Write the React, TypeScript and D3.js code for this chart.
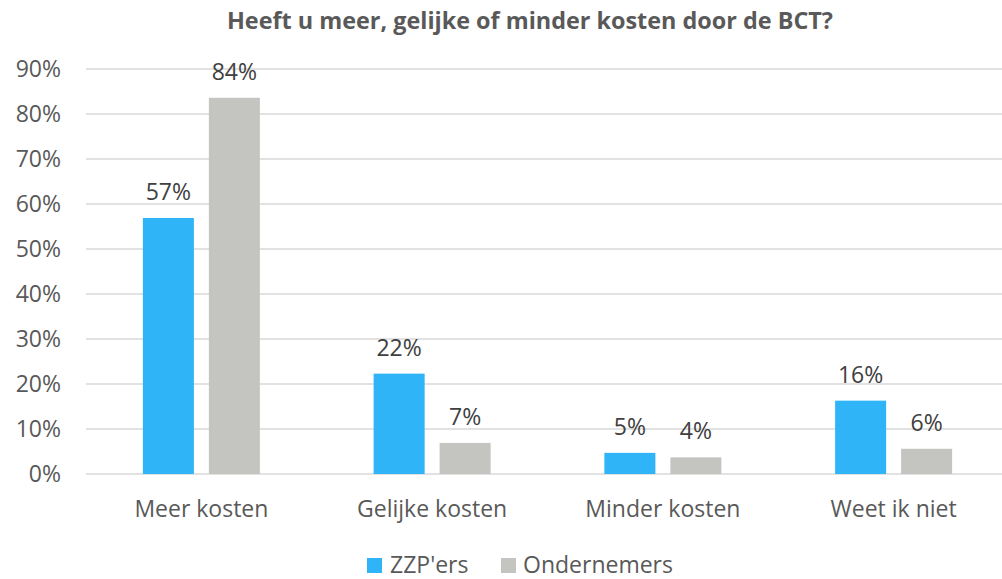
import React from "react";
import * as d3 from "d3";

const categories = ["Meer kosten", "Gelijke kosten", "Minder kosten", "Weet ik niet"];
const seriesNames = ["ZZP'ers", "Ondernemers"];
const zzpValues = [56.9, 22.3, 4.7, 16.3];
const ondernemersValues = [83.6, 6.9, 3.7, 5.6];
const zzpLabels = ["57%", "22%", "5%", "16%"];
const ondernemersLabels = ["84%", "7%", "4%", "6%"];
const yTicks = [0, 10, 20, 30, 40, 50, 60, 70, 80, 90];
const colors = ["#2fb5f7", "#c4c4c0"];

const W = 1002;
const H = 579;
const FONT = "'Open Sans', 'Noto Sans', sans-serif";

export default function App() {
  const x = d3.scaleBand<string>().domain(categories).range([86, 1009]);
  const y = d3.scaleLinear().domain([0, 90]).range([474, 69]);
  const inner = d3.scaleBand<number>().domain([0, 1]).range([0, 117]).paddingInner(0.227);
  const series = [
    { values: zzpValues, labels: zzpLabels },
    { values: ondernemersValues, labels: ondernemersLabels },
  ];
  const groupOffset = (x.bandwidth() - 117) / 2;

  return (
    <svg width={W} height={H} style={{ position: "absolute", left: 0, top: 0, background: "#fff" }} fontFamily={FONT}>
      <rect width={W} height={H} fill="#fff" />
      <text x={530} y={29} textAnchor="middle" fontSize={23.4} fontWeight="bold" fill="#595959">
        Heeft u meer, gelijke of minder kosten door de BCT?
      </text>
      {yTicks.map((t) => (
        <g key={t}>
          <line x1={86} x2={W} y1={y(t)} y2={y(t)} stroke="#d9d9d9" strokeWidth={1.5} />
          <text x={61} y={y(t) + 8} textAnchor="end" fontSize={23} fill="#595959">
            {t}%
          </text>
        </g>
      ))}
      {series.map((s, si) =>
        categories.map((c, ci) => {
          const bx = (x(c) as number) + groupOffset + (inner(si) as number);
          const by = y(s.values[ci]);
          return (
            <g key={si + "-" + ci}>
              <rect x={bx} y={by} width={inner.bandwidth()} height={y(0) - by} fill={colors[si]} />
              <text x={bx + inner.bandwidth() / 2} y={by - 18} textAnchor="middle" fontSize={23} fill="#404040">
                {s.labels[ci]}
              </text>
            </g>
          );
        })
      )}
      {categories.map((c) => (
        <text key={c} x={(x(c) as number) + x.bandwidth() / 2} y={517} textAnchor="middle" fontSize={23} fill="#595959">
          {c}
        </text>
      ))}
      <g>
        <rect x={367} y={558} width={15} height={15} fill={colors[0]} />
        <text x={390} y={573} fontSize={23} fill="#595959">{seriesNames[0]}</text>
        <rect x={501} y={558} width={15} height={15} fill={colors[1]} />
        <text x={523} y={573} fontSize={23} fill="#595959">{seriesNames[1]}</text>
      </g>
    </svg>
  );
}
